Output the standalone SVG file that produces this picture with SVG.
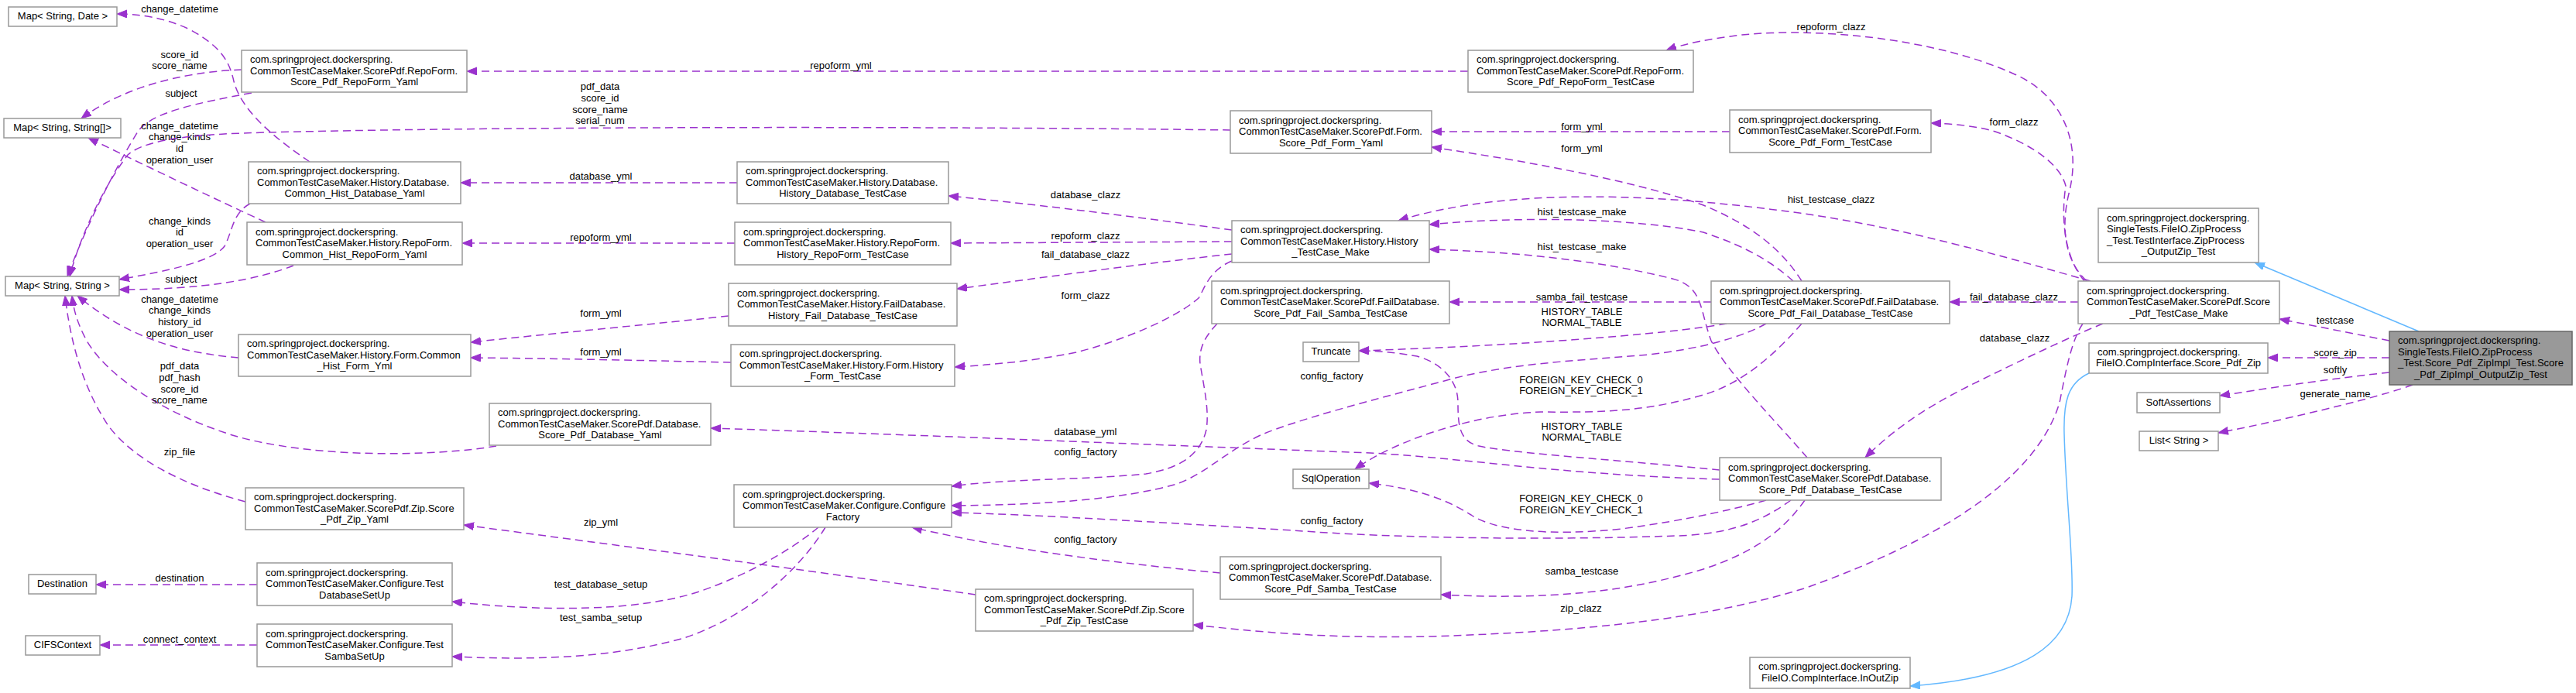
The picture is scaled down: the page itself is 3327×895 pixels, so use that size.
<svg xmlns="http://www.w3.org/2000/svg" width="3327" height="895" viewBox="0 0 3327 895">
<style>
text{font-family:"Liberation Sans",Arial,sans-serif;font-size:13px;fill:#000}
.node rect{fill:#fff;stroke:#999;stroke-width:1.5}
.node text.c,.edge text{text-anchor:middle}
#n36 rect{fill:#999;stroke:#666}
.edge path{fill:none;stroke:#9a32cd;stroke-width:1.5;stroke-dasharray:10,6;marker-end:url(#pa)}
.edge.inh path{stroke:#63b8ff;stroke-dasharray:none;marker-end:url(#ba)}
</style>
<defs>
<marker id="pa" markerUnits="userSpaceOnUse" markerWidth="14" markerHeight="11" refX="13" refY="5" orient="auto"><path d="M0,0 L13,5 L0,10 z" fill="#9a32cd" stroke="#9a32cd" stroke-width="1" stroke-dasharray="none"/></marker>
<marker id="ba" markerUnits="userSpaceOnUse" markerWidth="14" markerHeight="11" refX="13" refY="5" orient="auto"><path d="M0,0 L13,5 L0,10 z" fill="#63b8ff" stroke="#63b8ff" stroke-width="1" stroke-dasharray="none"/></marker>
</defs>
<rect x="0" y="0" width="3327" height="895" fill="#fff"/>
<g id="edges">
<g class="edge" id="e1"><path d="M400,209 C360,182 312,145 302,105 C296,78 285,60 245,38 C210,22 180,18 151,18"/><text x="232" y="16">change_datetime</text></g>
<g class="edge" id="e2"><path d="M312,90 C250,92 165,108 105,153"/><text x="232" y="75">score_id</text><text x="232" y="89">score_name</text></g>
<g class="edge" id="e3"><path d="M325,120 C255,133 195,145 178,170 C150,215 112,290 87,357"/><text x="234" y="125">subject</text></g>
<g class="edge" id="e4"><path d="M343,287 C280,258 190,215 114,178"/><text x="232" y="167">change_datetime</text><text x="232" y="181">change_kinds</text><text x="232" y="196">id</text><text x="232" y="211">operation_user</text></g>
<g class="edge" id="e5"><path d="M1589,168 C1300,164 700,162 346,171 C260,173 190,178 165,200 C135,240 105,300 90,357"/><text x="775" y="116">pdf_data</text><text x="775" y="131">score_id</text><text x="775" y="145.5">score_name</text><text x="775" y="160">serial_num</text></g>
<g class="edge" id="e6"><path d="M323,263 C300,275 300,300 290,318 C275,338 215,350 154,361"/><text x="232" y="289.5">change_kinds</text><text x="232" y="304">id</text><text x="232" y="319">operation_user</text></g>
<g class="edge" id="e7"><path d="M379,343 C330,362 260,374 154,374"/><text x="234" y="364.5">subject</text></g>
<g class="edge" id="e8"><path d="M308,462 C240,456 170,440 100,382"/><text x="232" y="391">change_datetime</text><text x="232" y="405">change_kinds</text><text x="232" y="420">history_id</text><text x="232" y="435">operation_user</text></g>
<g class="edge" id="e9"><path d="M641,576 C560,590 400,592 300,562 C200,530 135,480 112,440 C100,418 95,400 93,382"/><text x="232" y="477">pdf_data</text><text x="232" y="492">pdf_hash</text><text x="232" y="507">score_id</text><text x="232" y="521">score_name</text></g>
<g class="edge" id="e10"><path d="M317,648 C230,625 170,590 140,550 C110,505 92,450 84,382"/><text x="232" y="588">zip_file</text></g>
<g class="edge" id="e11"><path d="M332,755 L124,755"/><text x="232" y="751">destination</text></g>
<g class="edge" id="e12"><path d="M332,833 L129,833"/><text x="232" y="829.5">connect_context</text></g>
<g class="edge" id="e13"><path d="M952,236 L595,236"/><text x="776" y="232">database_yml</text></g>
<g class="edge" id="e14"><path d="M949,314 L597,314"/><text x="776" y="311">repoform_yml</text></g>
<g class="edge" id="e15"><path d="M941,408 C850,418 720,430 608,442"/><text x="776" y="408.5">form_yml</text></g>
<g class="edge" id="e16"><path d="M944,468 C850,466 720,463 608,462"/><text x="776" y="459">form_yml</text></g>
<g class="edge" id="e17"><path d="M1057,681 C1020,712 960,745 900,765 C820,790 700,790 584,777"/><text x="776" y="758.5">test_database_setup</text></g>
<g class="edge" id="e18"><path d="M1066,681 C1030,740 960,800 880,825 C780,852 680,852 584,848"/><text x="776" y="801.5">test_samba_setup</text></g>
<g class="edge" id="e19"><path d="M1260,768 C1000,730 800,705 599,678"/><text x="776" y="679">zip_yml</text></g>
<g class="edge" id="e20"><path d="M2221,619 C2000,612 1900,592 1770,585 C1500,575 1200,562 918,553"/><text x="1402" y="561.5">database_yml</text></g>
<g class="edge" id="e21"><path d="M1591,297 C1480,282 1350,265 1225,253"/><text x="1402" y="255.5">database_clazz</text></g>
<g class="edge" id="e22"><path d="M1591,312 L1228,314"/><text x="1402" y="308.5">repoform_clazz</text></g>
<g class="edge" id="e23"><path d="M1591,328 C1480,340 1350,358 1236,373"/><text x="1402" y="332.5">fail_database_clazz</text></g>
<g class="edge" id="e24"><path d="M1591,337 C1560,350 1555,375 1548,385 C1520,410 1450,440 1390,455 C1330,467 1280,471 1233,474"/><text x="1402" y="385.5">form_clazz</text></g>
<g class="edge" id="e25"><path d="M1572,418 C1556,435 1548,450 1550,470 C1555,500 1562,530 1558,555 C1550,590 1520,605 1480,612 C1400,620 1300,618 1229,628"/><text x="1402" y="587.5">config_factory</text></g>
<g class="edge" id="e26"><path d="M2281,418 C2250,435 2200,450 2129,458 C2050,465 1960,468 1880,488 C1780,515 1680,540 1628,562 C1580,585 1560,610 1520,625 C1450,645 1350,652 1229,653"/><text x="1720" y="489.5">config_factory</text></g>
<g class="edge" id="e27"><path d="M2313,646 C2280,670 2240,690 2165,692 C2000,698 1800,695 1670,685 C1500,675 1350,665 1229,662"/><text x="1720" y="676.5">config_factory</text></g>
<g class="edge" id="e28"><path d="M1576,740 C1450,728 1300,710 1178,681"/><text x="1402" y="700.5">config_factory</text></g>
<g class="edge" id="e29"><path d="M2690,418 C2675,440 2668,480 2660,520 C2630,620 2500,700 2330,760 C2200,800 2050,815 1850,822 C1700,825 1620,815 1541,807"/><text x="2042" y="789.5">zip_clazz</text></g>
<g class="edge" id="e30"><path d="M2716,418 C2680,432 2600,470 2540,500 C2480,530 2440,560 2409,591"/><text x="2602" y="440.5">database_clazz</text></g>
<g class="edge" id="e31"><path d="M2684,390 L2518,390"/><text x="2601" y="387.5">fail_database_clazz</text></g>
<g class="edge" id="e32"><path d="M2695,363 C2670,340 2660,300 2672,250 C2690,180 2660,120 2600,95 C2500,50 2350,35 2250,45 C2210,50 2180,55 2152,65"/><text x="2365" y="38.5">repoform_clazz</text></g>
<g class="edge" id="e33"><path d="M2692,363 C2665,330 2662,280 2668,240 C2660,210 2620,185 2577,170 C2550,162 2520,160 2494,159"/><text x="2601" y="161.5">form_clazz</text></g>
<g class="edge" id="e34"><path d="M2700,363 C2600,335 2450,290 2300,272 C2150,252 1950,240 1806,285"/><text x="2365" y="261.5">hist_testcase_clazz</text></g>
<g class="edge" id="e35"><path d="M1896,92 L603,92"/><text x="1086" y="88.5">repoform_yml</text></g>
<g class="edge" id="e36"><path d="M2234,170 L1849,170"/><text x="2043" y="167.5">form_yml</text></g>
<g class="edge" id="e37"><path d="M2327,363 C2300,320 2260,290 2200,265 C2100,230 1950,205 1849,190"/><text x="2043" y="195.5">form_yml</text></g>
<g class="edge" id="e38"><path d="M2316,363 C2290,340 2260,320 2200,300 C2100,280 1950,280 1846,290"/><text x="2043" y="277.5">hist_testcase_make</text></g>
<g class="edge" id="e39"><path d="M2334,591 C2290,540 2230,480 2210,440 C2195,400 2200,370 2160,360 C2060,335 1950,325 1846,322"/><text x="2043" y="322.5">hist_testcase_make</text></g>
<g class="edge" id="e40"><path d="M2210,390 L1872,390"/><text x="2043" y="387.5">samba_fail_testcase</text></g>
<g class="edge" id="e41"><path d="M2230,418 C2150,432 1950,447 1755,453"/><text x="2043" y="406.5">HISTORY_TABLE</text><text x="2043" y="420.5">NORMAL_TABLE</text></g>
<g class="edge" id="e42"><path d="M2221,607 C2100,595 1950,585 1910,576 C1885,570 1883,550 1883,520 C1883,490 1860,468 1830,460 C1800,455 1780,453 1755,453"/><text x="2043" y="554.5">HISTORY_TABLE</text><text x="2043" y="568.5">NORMAL_TABLE</text></g>
<g class="edge" id="e43"><path d="M2327,418 C2290,460 2250,495 2200,510 C2130,530 2080,533 1990,532 C1900,535 1800,570 1750,606"/><text x="2042" y="494.5">FOREIGN_KEY_CHECK_0</text><text x="2042" y="508.5">FOREIGN_KEY_CHECK_1</text></g>
<g class="edge" id="e44"><path d="M2281,646 C2250,655 2180,672 2094,683 C2000,693 1930,685 1900,665 C1860,640 1820,630 1768,624"/><text x="2042" y="647.5">FOREIGN_KEY_CHECK_0</text><text x="2042" y="662.5">FOREIGN_KEY_CHECK_1</text></g>
<g class="edge" id="e45"><path d="M2331,646 C2300,690 2260,715 2200,735 C2100,765 2000,775 1861,768"/><text x="2043" y="741.5">samba_testcase</text></g>
<g class="edge" id="e46"><path d="M3086,440 L2944,412"/><text x="3016" y="417.5">testcase</text></g>
<g class="edge inh" id="e47"><path d="M3124,428 L2912,339"/></g>
<g class="edge" id="e48"><path d="M3086,462 L2929,462"/><text x="3016" y="459.5">score_zip</text></g>
<g class="edge" id="e49"><path d="M3086,481 C3000,490 2920,503 2867,511"/><text x="3016" y="481.5">softly</text></g>
<g class="edge" id="e50"><path d="M3116,497 C3080,510 3020,525 2950,541 C2920,548 2890,554 2865,559"/><text x="3016" y="512.5">generate_name</text></g>
<g class="edge inh" id="e51"><path d="M2698,482 C2670,495 2665,520 2666,560 C2668,640 2678,720 2676,770 C2672,830 2620,875 2467,886"/></g>
</g>
<g id="n1" class="node"><rect x="11" y="9" width="140" height="25"/><text class="c" x="81" y="25">Map&lt; String, Date &gt;</text></g>
<g id="n2" class="node"><rect x="5" y="153" width="151" height="25"/><text class="c" x="80.5" y="169">Map&lt; String, String[]&gt;</text></g>
<g id="n3" class="node"><rect x="7" y="357" width="147" height="25"/><text class="c" x="80.5" y="373">Map&lt; String, String &gt;</text></g>
<g id="n4" class="node"><rect x="312" y="65" width="291" height="54"/><text x="323" y="81">com.springproject.dockerspring.</text><text x="323" y="95.5">CommonTestCaseMaker.ScorePdf.RepoForm.</text><text class="c" x="457.5" y="110">Score_Pdf_RepoForm_Yaml</text></g>
<g id="n5" class="node"><rect x="321" y="209" width="274" height="54"/><text x="332" y="225">com.springproject.dockerspring.</text><text x="332" y="239.5">CommonTestCaseMaker.History.Database.</text><text class="c" x="458" y="254">Common_Hist_Database_Yaml</text></g>
<g id="n6" class="node"><rect x="319" y="287" width="278" height="55"/><text x="330" y="303.5">com.springproject.dockerspring.</text><text x="330" y="318">CommonTestCaseMaker.History.RepoForm.</text><text class="c" x="458" y="332.5">Common_Hist_RepoForm_Yaml</text></g>
<g id="n7" class="node"><rect x="308" y="432" width="300" height="54"/><text x="319" y="448">com.springproject.dockerspring.</text><text x="319" y="462.5">CommonTestCaseMaker.History.Form.Common</text><text class="c" x="458" y="477">_Hist_Form_Yml</text></g>
<g id="n8" class="node"><rect x="632" y="521" width="286" height="54"/><text x="643" y="537">com.springproject.dockerspring.</text><text x="643" y="551.5">CommonTestCaseMaker.ScorePdf.Database.</text><text class="c" x="775" y="566">Score_Pdf_Database_Yaml</text></g>
<g id="n9" class="node"><rect x="317" y="630" width="282" height="54"/><text x="328" y="646">com.springproject.dockerspring.</text><text x="328" y="660.5">CommonTestCaseMaker.ScorePdf.Zip.Score</text><text class="c" x="458" y="675">_Pdf_Zip_Yaml</text></g>
<g id="n10" class="node"><rect x="37" y="742" width="87" height="25"/><text class="c" x="80.5" y="758">Destination</text></g>
<g id="n11" class="node"><rect x="33" y="821" width="96" height="25"/><text class="c" x="81" y="837">CIFSContext</text></g>
<g id="n12" class="node"><rect x="332" y="727" width="252" height="55"/><text x="343" y="743.5">com.springproject.dockerspring.</text><text x="343" y="758">CommonTestCaseMaker.Configure.Test</text><text class="c" x="458" y="772.5">DatabaseSetUp</text></g>
<g id="n13" class="node"><rect x="332" y="806" width="252" height="55"/><text x="343" y="822.5">com.springproject.dockerspring.</text><text x="343" y="837">CommonTestCaseMaker.Configure.Test</text><text class="c" x="458" y="851.5">SambaSetUp</text></g>
<g id="n14" class="node"><rect x="948" y="626" width="281" height="55"/><text x="959" y="642.5">com.springproject.dockerspring.</text><text x="959" y="657">CommonTestCaseMaker.Configure.Configure</text><text class="c" x="1088.5" y="671.5">Factory</text></g>
<g id="n15" class="node"><rect x="952" y="209" width="273" height="54"/><text x="963" y="225">com.springproject.dockerspring.</text><text x="963" y="239.5">CommonTestCaseMaker.History.Database.</text><text class="c" x="1088.5" y="254">History_Database_TestCase</text></g>
<g id="n16" class="node"><rect x="949" y="287" width="279" height="55"/><text x="960" y="303.5">com.springproject.dockerspring.</text><text x="960" y="318">CommonTestCaseMaker.History.RepoForm.</text><text class="c" x="1088.5" y="332.5">History_RepoForm_TestCase</text></g>
<g id="n17" class="node"><rect x="941" y="366" width="295" height="55"/><text x="952" y="382.5">com.springproject.dockerspring.</text><text x="952" y="397">CommonTestCaseMaker.History.FailDatabase.</text><text class="c" x="1088.5" y="411.5">History_Fail_Database_TestCase</text></g>
<g id="n18" class="node"><rect x="944" y="445" width="289" height="54"/><text x="955" y="461">com.springproject.dockerspring.</text><text x="955" y="475.5">CommonTestCaseMaker.History.Form.History</text><text class="c" x="1088.5" y="490">_Form_TestCase</text></g>
<g id="n19" class="node"><rect x="1589" y="143" width="260" height="55"/><text x="1600" y="159.5">com.springproject.dockerspring.</text><text x="1600" y="174">CommonTestCaseMaker.ScorePdf.Form.</text><text class="c" x="1719" y="188.5">Score_Pdf_Form_Yaml</text></g>
<g id="n20" class="node"><rect x="1591" y="285" width="255" height="54"/><text x="1602" y="301">com.springproject.dockerspring.</text><text x="1602" y="315.5">CommonTestCaseMaker.History.History</text><text class="c" x="1718.5" y="330">_TestCase_Make</text></g>
<g id="n21" class="node"><rect x="1565" y="363" width="307" height="55"/><text x="1576" y="379.5">com.springproject.dockerspring.</text><text x="1576" y="394">CommonTestCaseMaker.ScorePdf.FailDatabase.</text><text class="c" x="1718.5" y="408.5">Score_Pdf_Fail_Samba_TestCase</text></g>
<g id="n22" class="node"><rect x="1683" y="442" width="72" height="25"/><text class="c" x="1719" y="458">Truncate</text></g>
<g id="n23" class="node"><rect x="1670" y="606" width="98" height="25"/><text class="c" x="1719" y="622">SqlOperation</text></g>
<g id="n24" class="node"><rect x="1576" y="719" width="285" height="55"/><text x="1587" y="735.5">com.springproject.dockerspring.</text><text x="1587" y="750">CommonTestCaseMaker.ScorePdf.Database.</text><text class="c" x="1718.5" y="764.5">Score_Pdf_Samba_TestCase</text></g>
<g id="n25" class="node"><rect x="1260" y="761" width="281" height="54"/><text x="1271" y="777">com.springproject.dockerspring.</text><text x="1271" y="791.5">CommonTestCaseMaker.ScorePdf.Zip.Score</text><text class="c" x="1400.5" y="806">_Pdf_Zip_TestCase</text></g>
<g id="n26" class="node"><rect x="1896" y="65" width="291" height="54"/><text x="1907" y="81">com.springproject.dockerspring.</text><text x="1907" y="95.5">CommonTestCaseMaker.ScorePdf.RepoForm.</text><text class="c" x="2041.5" y="110">Score_Pdf_RepoForm_TestCase</text></g>
<g id="n27" class="node"><rect x="2234" y="142" width="260" height="55"/><text x="2245" y="158.5">com.springproject.dockerspring.</text><text x="2245" y="173">CommonTestCaseMaker.ScorePdf.Form.</text><text class="c" x="2364" y="187.5">Score_Pdf_Form_TestCase</text></g>
<g id="n28" class="node"><rect x="2210" y="363" width="308" height="55"/><text x="2221" y="379.5">com.springproject.dockerspring.</text><text x="2221" y="394">CommonTestCaseMaker.ScorePdf.FailDatabase.</text><text class="c" x="2364" y="408.5">Score_Pdf_Fail_Database_TestCase</text></g>
<g id="n29" class="node"><rect x="2221" y="591" width="286" height="55"/><text x="2232" y="607.5">com.springproject.dockerspring.</text><text x="2232" y="622">CommonTestCaseMaker.ScorePdf.Database.</text><text class="c" x="2364" y="636.5">Score_Pdf_Database_TestCase</text></g>
<g id="n30" class="node"><rect x="2684" y="363" width="260" height="55"/><text x="2695" y="379.5">com.springproject.dockerspring.</text><text x="2695" y="394">CommonTestCaseMaker.ScorePdf.Score</text><text class="c" x="2814" y="408.5">_Pdf_TestCase_Make</text></g>
<g id="n31" class="node"><rect x="2710" y="269" width="207" height="70"/><text x="2721" y="285.75">com.springproject.dockerspring.</text><text x="2721" y="300.25">SingleTests.FileIO.ZipProcess</text><text x="2721" y="314.75">_Test.TestInterface.ZipProcess</text><text class="c" x="2813.5" y="329.25">_OutputZip_Test</text></g>
<g id="n32" class="node"><rect x="2698" y="443" width="231" height="39"/><text x="2709" y="458.75">com.springproject.dockerspring.</text><text class="c" x="2813.5" y="473.25">FileIO.CompInterface.Score_Pdf_Zip</text></g>
<g id="n33" class="node"><rect x="2760" y="507" width="107" height="26"/><text class="c" x="2813.5" y="523.5">SoftAssertions</text></g>
<g id="n34" class="node"><rect x="2763" y="557" width="102" height="25"/><text class="c" x="2814" y="573">List&lt; String &gt;</text></g>
<g id="n35" class="node"><rect x="2260" y="849" width="207" height="40"/><text x="2271" y="865.25">com.springproject.dockerspring.</text><text class="c" x="2363.5" y="879.75">FileIO.CompInterface.InOutZip</text></g>
<g id="n36" class="node"><rect x="3086" y="428" width="236" height="69"/><text x="3097" y="444.25">com.springproject.dockerspring.</text><text x="3097" y="458.75">SingleTests.FileIO.ZipProcess</text><text x="3097" y="473.25">_Test.Score_Pdf_ZipImpl_Test.Score</text><text class="c" x="3204" y="487.75">_Pdf_ZipImpl_OutputZip_Test</text></g>
</svg>
